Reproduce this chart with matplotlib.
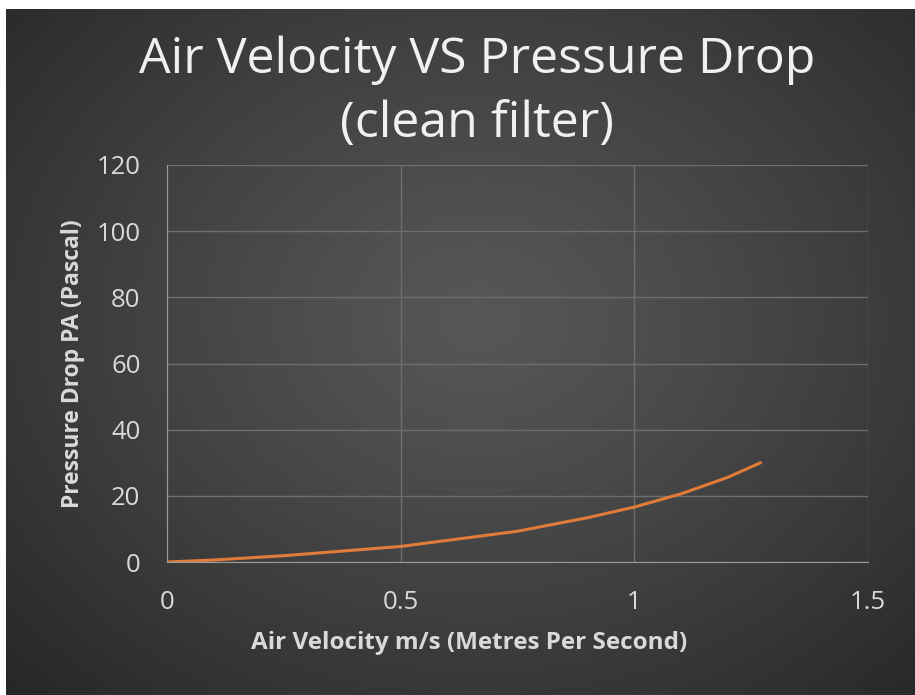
import numpy as np
import matplotlib
matplotlib.use("Agg")
import matplotlib.pyplot as plt

# Data
velocity = [0.0, 0.1, 0.25, 0.5, 0.75, 0.9, 1.0, 1.1, 1.2, 1.27]
pressure = [0.0, 0.6, 1.9, 4.7, 9.3, 13.4, 16.6, 20.6, 25.6, 30.0]

x_ticks = [0, 0.5, 1, 1.5]
x_tick_labels = ["0", "0.5", "1", "1.5"]
y_ticks = [0, 20, 40, 60, 80, 100, 120]

W, H = 915, 695
fig = plt.figure(figsize=(W / 100, H / 100), dpi=100)
fig.patch.set_facecolor("white")

# background with radial gradient
bg = fig.add_axes([6 / W, 0, (W - 6) / W, (H - 9) / H])
bg.set_axis_off()
yy, xx = np.mgrid[0:1:400j, 0:1:500j]
cx, cy = 0.52, 0.55
r = np.sqrt(((xx - cx) / 0.75) ** 2 + ((yy - cy) / 0.8) ** 2)
r = np.clip(r, 0, 1)
lo, hi = 0.145, 0.34
val = hi - (hi - lo) * r ** 1.2
img = np.dstack([val, val, val])
bg.imshow(img, extent=[0, 1, 0, 1], aspect="auto", origin="lower")

font = "Open Sans"
tick_col = "#d9d9d9"

ax = fig.add_axes([167 / W, (H - 562) / H, (868 - 167) / W, (562 - 165) / H])
ax.set_facecolor("none")
ax.plot(velocity, pressure, color="#e07b39", lw=2.2, solid_capstyle="round")
ax.set_xlim(0, 1.5)
ax.set_ylim(0, 120)
ax.set_xticks(x_ticks)
ax.set_xticklabels(x_tick_labels)
ax.set_yticks(y_ticks)
ax.grid(True, color="#6e6e6e", lw=1)
ax.set_axisbelow(True)
for s in ["top", "right"]:
    ax.spines[s].set_visible(False)
ax.spines["left"].set_color("#9a9a9a")
ax.spines["bottom"].set_color("#9a9a9a")
ax.tick_params(length=0, colors=tick_col, labelsize=18.5)
for lab in ax.get_xticklabels() + ax.get_yticklabels():
    lab.set_family(font)
ax.tick_params(axis="x", pad=20)
ax.tick_params(axis="y", pad=19)

fig.text(469 / W, 1 - 643 / H, "Air Velocity m/s (Metres Per Second)",
         ha="center", va="center", color=tick_col,
         fontsize=17.5, fontweight="bold", family=font)
ax.set_ylabel("Pressure Drop PA (Pascal)", color=tick_col,
              fontsize=16.5, fontweight="bold", family=font, labelpad=8)

fig.text(477 / W, 1 - 60 / H, "Air Velocity VS Pressure Drop", ha="center",
         va="center", color="#f0f0f0", fontsize=36, family=font)
fig.text(477 / W, 1 - 124 / H, "(clean filter)", ha="center",
         va="center", color="#f0f0f0", fontsize=36, family=font)

fig.savefig("out.png", dpi=100)
